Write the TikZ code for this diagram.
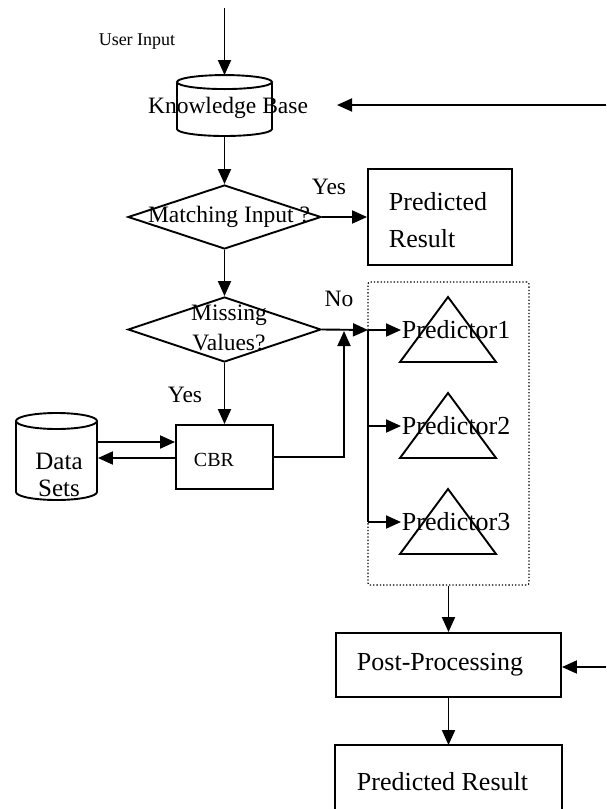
\documentclass[tikz,border=0pt]{standalone}
\usepackage{fontspec}
\setmainfont{Liberation Serif}
\usetikzlibrary{shapes.geometric,arrows.meta}
\begin{document}
\begin{tikzpicture}[x=1pt,y=-1pt, line width=1.9pt,
  arr/.style={-{Triangle[length=15pt,width=13pt]}},
  box/.style={draw, rectangle, inner sep=0pt},
  dia/.style={draw, diamond, aspect=3, inner sep=0pt},
  holder/.style={rectangle, inner sep=0pt},
  big/.style={font=\fontsize{26}{37}\selectfont, inner sep=0pt},
  med/.style={font=\fontsize{23.5}{30}\selectfont, inner sep=0pt},
  sml/.style={font=\fontsize{18}{20}\selectfont, inner sep=0pt},
  cbrf/.style={font=\fontsize{20}{22}\selectfont, inner sep=0pt},
  dsf/.style={font=\fontsize{25}{27}\selectfont, inner sep=0pt, align=center}]
\useasboundingbox (0,0) rectangle (606,809);

% ---------- Knowledge Base cylinder ----------
\node[holder, minimum width=95pt, minimum height=60pt] (kb) at (224.5,106) {};
\draw (kb.north) ++(0,7) ellipse [x radius=47.5pt, y radius=7pt];
\draw (177,83) -- (177,129) arc[start angle=180, end angle=360, x radius=47.5pt, y radius=7pt] -- (272,83);
\node[med] (kbt) at (228,108) {Knowledge Base};

\coordinate (uin) at (224.5,8);
\draw[arr] (uin) -- (kb.north);
\node[sml] (ui) at (137,42) {User Input};

\coordinate (fbk) at (606,105);
\coordinate (fbkend) at (337,105);
\draw[arr] (fbk) -- (fbkend);

% ---------- Decision 1 ----------
\node[dia, minimum width=193pt, minimum height=64pt] (d1) at (224.5,217) {};
\node[med] (d1t) at (229,217) {Matching Input ?};
\draw[arr] (kb.south) -- (d1.north);

\node[box, minimum width=144pt, minimum height=96pt] (pr1) at (440,217) {};
\node[big, align=left, anchor=west] (pr1t) at (388,220) {Predicted\\Result};
\draw[arr] (d1.east) -- (pr1.west);
\node[med] (yes1) at (329,187) {Yes};

% ---------- Decision 2 ----------
\node[dia, minimum width=193pt, minimum height=65pt] (d2) at (224.5,329.5) {};
\node[med, align=center] (d2t) at (229,328) {Missing\\Values?};
\draw[arr] (d1.south) -- (d2.north);
\node[med] (no) at (339,299) {No};

% ---------- CBR ----------
\node[box, minimum width=97pt, minimum height=64pt] (cbr) at (224.5,457) {};
\node[cbrf] (cbrt) at (214,460) {CBR};
\draw[arr] (d2.south) -- (cbr.north);
\node[med] (yes2) at (185,395) {Yes};

\coordinate (j1) at (368,330);
\coordinate (j0) at (344,331);
\draw[arr] (d2.east) -- (j1);
\draw[arr] (cbr.east) -| (j0);

% ---------- Data Sets cylinder ----------
\node[holder, minimum width=81pt, minimum height=87pt] (ds) at (56.5,456.5) {};
\draw (56.5,421) ellipse [x radius=40.5pt, y radius=8pt];
\draw (16,421) -- (16,492) arc[start angle=180, end angle=360, x radius=40.5pt, y radius=8pt] -- (97,421);
\node[dsf] (dst) at (59,475) {Data\\Sets};
\coordinate (ya) at (0,442);
\coordinate (yb) at (0,458);
\draw[arr] (ds.east |- ya) -- (cbr.west |- ya);
\draw[arr] (cbr.west |- yb) -- (ds.east |- yb);

% ---------- Predictors group ----------
\node[draw, dotted, line width=1.3pt, rounded corners=2pt, minimum width=161pt, minimum height=303pt, inner sep=0pt] (grp) at (448.5,433.5) {};

\draw (448,297) -- (496,362) -- (400,362) -- cycle;
\draw (448,393) -- (496,458) -- (400,458) -- cycle;
\draw (448,489) -- (496,554) -- (400,554) -- cycle;

\node[big, anchor=west] (p1) at (401,330) {Predictor1};
\node[big, anchor=west] (p2) at (401,426) {Predictor2};
\node[big, anchor=west] (p3) at (401,522) {Predictor3};

\coordinate (j2) at (368,426);
\coordinate (j3) at (368,522);
\draw (j1) -- (j3);
\draw[arr] (j1) -- (p1.west);
\draw[arr] (j2) -- (p2.west);
\draw[arr] (j3) -- (p3.west);

% ---------- Post-processing ----------
\node[box, minimum width=225pt, minimum height=64pt] (pp) at (448.5,665) {};
\node[big, anchor=west] (ppt) at (356,665) {Post-Processing};
\draw[arr] (grp.south) -- (pp.north);
\coordinate (ppin) at (606,667);
\draw[arr] (ppin) -- (pp.east |- ppin);

% ---------- Final result ----------
\node[holder, minimum width=225pt, minimum height=63pt] (pr2) at (448.5,777.5) {};
\draw (pr2.south west) -- (pr2.north west) -- (pr2.north east) -- (pr2.south east);
\node[big, anchor=west] (pr2t) at (356,782) {Predicted Result};
\draw[arr] (pp.south) -- (pr2.north);
\end{tikzpicture}
\end{document}
